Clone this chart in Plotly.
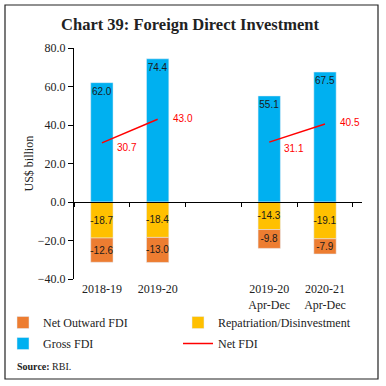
import plotly.graph_objects as go

categories = ["2018-19", "2019-20", " ", "2019-20<br>Apr-Dec", "2020-21<br>Apr-Dec"]
gross_fdi = [62.0, 74.4, None, 55.1, 67.5]
repatriation = [-18.7, -18.4, None, -14.3, -19.1]
net_outward = [-12.6, -13.0, None, -9.8, -7.9]
net_fdi = [30.7, 43.0, None, 31.1, 40.5]
net_fdi_label_yshift = [-5, 1, 0, -6, 2]

y_ticks = [-40, -20, 0, 20, 40, 60, 80]

SERIF = "Liberation Serif"
SANS = "Liberation Sans"
W, H = 386, 386
L, R, T, B = 74, 24, 48, 107

fig = go.Figure()
lab_font = dict(family=SANS, size=10, color="#1a1a1a")
fig.add_trace(go.Bar(x=categories, y=gross_fdi, name="Gross FDI", marker_color="#00B0F0",
                     texttemplate="%{y:.1f}", textposition="inside", insidetextanchor="end",
                     textangle=0, constraintext="none", textfont=lab_font,
                     legend="legend", legendrank=2, legendgroup="g"))
fig.add_trace(go.Bar(x=categories, y=repatriation, name="Repatriation/Disinvestment", marker_color="#FFC000",
                     texttemplate="%{y:.1f}", textposition="inside", insidetextanchor="middle",
                     textangle=0, constraintext="none", textfont=lab_font,
                     legend="legend2", legendrank=1, legendgroup="r"))
fig.add_trace(go.Bar(x=categories, y=net_outward, name="Net Outward FDI", marker_color="#ED7D31",
                     texttemplate="%{y:.1f}", textposition="inside", insidetextanchor="middle",
                     textangle=0, constraintext="none", textfont=lab_font,
                     legend="legend", legendrank=1, legendgroup="o"))
fig.add_trace(go.Scatter(x=categories, y=net_fdi, name="Net FDI", mode="lines",
                         line=dict(color="#FF0000", width=1.5), connectgaps=False,
                         legend="legend2", legendrank=2, legendgroup="n"))

for cat, v, ys in zip(categories, net_fdi, net_fdi_label_yshift):
    if v is None:
        continue
    fig.add_annotation(x=cat, y=v, xref="x", yref="y", text="%.1f" % v, showarrow=False,
                       xanchor="left", yanchor="middle", xshift=13, yshift=ys,
                       font=dict(family=SANS, size=10, color="#FF0000"))

pw, ph = W - L - R, H - T - B
fig.add_shape(type="rect", xref="paper", yref="paper",
              x0=(5 - L) / pw, x1=(378 - L) / pw,
              y0=(H - B - 379) / ph, y1=(H - B - 5) / ph,
              line=dict(color="#222", width=1.2), fillcolor="rgba(0,0,0,0)", layer="below")

leg_common = dict(orientation="v", xref="container", yref="container", xanchor="left", yanchor="top",
                  traceorder="grouped", tracegroupgap=2,
                  font=dict(family=SERIF, size=12, color="#222"), bgcolor="rgba(0,0,0,0)")

fig.update_layout(
    width=W, height=H, margin=dict(l=L, r=R, t=T, b=B, autoexpand=False),
    paper_bgcolor="white", plot_bgcolor="white",
    barmode="relative", bargap=0.6,
    title=dict(text="<b>Chart 39: Foreign Direct Investment</b>", x=190 / W, xanchor="center",
               y=1 - 24 / H, yanchor="middle", font=dict(family=SERIF, size=16.5, color="#222")),
    xaxis=dict(type="category", anchor="free", position=1 / 3, showline=True, linecolor="black",
               linewidth=1, ticks="outside", ticklen=4, tickcolor="black", tickson="boundaries",
               ticklabelstandoff=76, showgrid=False, zeroline=False, automargin=False,
               tickfont=dict(family=SERIF, size=12, color="#222")),
    yaxis=dict(range=[-40, 80], tickvals=y_ticks, tickformat=".1f", showline=True,
               linecolor="black", linewidth=1, ticks="outside", ticklen=5, tickcolor="black",
               showgrid=False, zeroline=False, automargin=False,
               tickfont=dict(family=SERIF, size=12, color="#222")),
    legend=dict(x=3 / W, y=1 - 308 / H, **leg_common),
    legend2=dict(x=178 / W, y=1 - 308 / H, **leg_common),
    showlegend=True,
)
fig.add_annotation(text="US$ billion", xref="paper", yref="paper", x=(28 - L) / pw, y=0.5,
                   textangle=-90, xanchor="center", yanchor="middle", showarrow=False,
                   font=dict(family=SERIF, size=12, color="#222"))
fig.add_annotation(text="<b>Source:</b> RBI.", xref="paper", yref="paper",
                   x=(15 - L) / pw, y=(H - B - 366) / ph, xanchor="left", yanchor="middle",
                   showarrow=False, font=dict(family=SERIF, size=10, color="#222"))

fig.write_html("out.html", config={"displayModeBar": False},
               post_script="document.body.style.margin='0';")
